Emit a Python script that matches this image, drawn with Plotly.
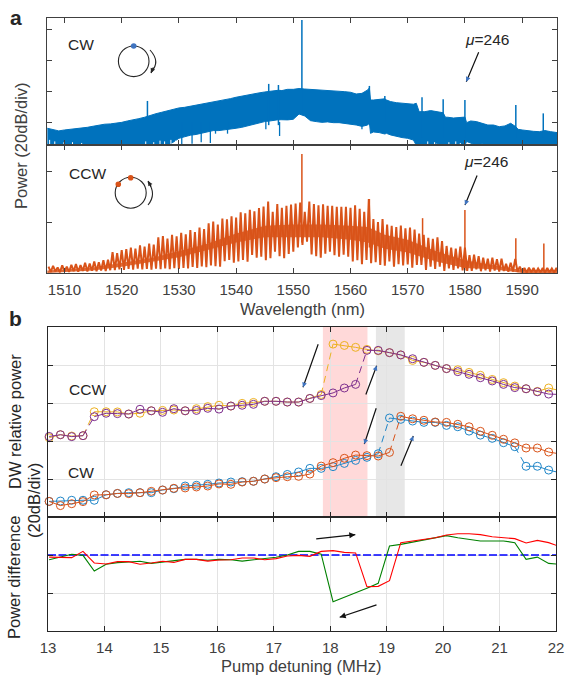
import plotly.graph_objects as go

W, H = 566, 677
BLUE, ORANGE, YELLOW, PURPLE = "#0072BD", "#D95319", "#EDB120", "#7E2F8E"
AX = "#404040"

# ---------- panel a: CW spectrum envelope (dB, relative) ----------
cw_wl = [1507,1508,1509,1510,1511,1512,1513,1514,1515,1516,1517,1518,1519,1520,1521,1522,1523,1524,1525,1526,
         1527,1528,1529,1530,1531,1532,1533,1534,1535,1536,1537,1538,1539,1540,1541,1542,1543,1544,1545,1545.7,
         1546.2,1547,1547.4,1548,1549,1550,1551,1552,1553,1554,1555,1556,1557,1558,1559,1560,1561,1562,1563,1563.3,
         1563.5,1564,1565,1566,1566.3,1567,1568,1569,1570,1571,1571.5,1572,1572.5,1573,1574,1575,1576,1576.2,1576.6,1577,
         1578,1579,1579.9,1580,1580.3,1581,1582,1583,1584,1585,1586,1587,1588,1588.9,1589.3,1590,1591,1592,1593,1593.7,
         1594,1595,1596.1]
cw_hi = [-64.0,-64.7,-65.7,-65.1,-64.7,-64.5,-64.0,-63.4,-62.7,-61.9,-61.4,-61.2,-60.8,-60.2,-59.3,-58.7,-57.8,-56.9,-55.6,-54.6,
         -53.7,-52.6,-51.8,-50.9,-50.5,-49.8,-49.2,-48.5,-47.9,-47.3,-46.6,-46.0,-44.9,-44.0,-43.2,-42.5,-41.9,-41.2,-40.6,-40.2,
         -39.7,-39.3,-39.5,-39.7,-38.9,-38.9,-38.4,-38.7,-38.9,-39.1,-39.3,-39.7,-39.9,-40.2,-40.4,-40.8,-41.9,-41.5,-39.3,-38.0,
         -45.8,-45.8,-45.3,-45.0,-45.8,-46.8,-47.5,-47.9,-48.3,-48.5,-47.9,-53.3,-53.3,-53.3,-52.6,-53.3,-53.7,-54.0,-56.9,-56.9,
         -57.4,-56.9,-56.5,-56.8,-60.4,-59.3,-59.7,-60.8,-61.9,-61.9,-63.0,-62.5,-60.8,-63.0,-64.7,-65.1,-65.7,-66.0,-66.2,-66.0,
         -65.5,-66.2,-66.8]
cw_lo = [-75,-75,-75,-75,-75,-75,-75,-75,-75,-75,-75,-75,-75,-75,-75,-75,-75,-75,-75,-75,
         -75,-75,-73,-70.5,-69.5,-68.5,-68,-67.3,-66.5,-65.5,-65.5,-65.1,-64.7,-64.0,-63.4,-62.5,-61.2,-60.4,-59.7,-59.4,
         -59.1,-58.7,-58.5,-58.5,-58.6,-58.2,-54.8,-56.1,-59.1,-59.7,-60.2,-59.9,-60.4,-60.4,-60.8,-61.2,-61.9,-62.8,-61.9,-60.0,
         -67.3,-66.4,-66.8,-67.7,-67.3,-68.3,-69.4,-70.0,-70.5,-71.6,-75,-75,-75,-74.1,-75,-73.7,-75,-75,-75,-75,
         -75,-75,-75,-75,-72.5,-73.5,-75,-74,-75,-74.5,-75,-75,-75,-75,-75,-75,-75,-75,-75,-75,
         -75,-75,-75]
cw_spike_wl = [1524.5, 1545.7, 1547.4, 1551.5, 1563.3, 1566.0, 1572.5, 1576.2, 1580.0, 1588.9, 1593.7]
cw_spike_top = [-46.4, -35.4, -36.1, 5.8, -36.7, -43.2, -44.0, -45.3, -45.8, -49.0, -54.4]
cw_spike_bot = [-58.0, -62.0, -62.0, -55.0, -62.0, -60.0, -70.0, -70.0, -70.0, -70.0, -70.0]
cw_drop_wl = [1530.5, 1532.3, 1533.9, 1535.5, 1536.4, 1538.5, 1545.2, 1547.6, 1562.0]
cw_drop_bot = [-75.0, -74.0, -73.0, -73.5, -67.5, -67.5, -64.7, -69.0, -64.7]
cw_slit_wl = [1507.4, 1508.3, 1509.9, 1511.4, 1513.0, 1524.2, 1525.6, 1526.7, 1527.5, 1528.6, 1529.4,
              1573.5, 1574.7, 1577.2, 1578.4, 1579.2]
cw_slit_top = [-71.5, -72.5, -73.0, -73.0, -73.5, -72.5, -73.0, -72.0, -72.5, -71.5, -72.0,
               -72.5, -73.0, -73.0, -72.5, -73.5]

# ---------- panel a: CCW comb teeth (dB, relative) ----------
ccw_wl = [1507.2,1508.0,1508.8,1509.6,1510.4,1511.2,1512.0,1512.8,1513.6,1514.4,1515.2,1516.0,1516.8,1517.6,
          1518.4,1519.2,1520.0,1520.8,1521.6,1522.4,1523.2,1524.0,1524.8,1525.6,1526.4,1527.2,1528.0,1528.8,
          1529.6,1530.4,1531.2,1532.0,1532.8,1533.6,1534.4,1535.2,1536.0,1536.8,1537.6,1538.4,1539.2,1540.0,
          1540.8,1541.6,1542.4,1543.2,1544.0,1544.8,1545.6,1546.4,1547.2,1548.0,1548.8,1549.6,1550.4,1551.2,
          1552.0,1552.8,1553.6,1554.4,1555.2,1556.0,1556.8,1557.6,1558.4,1559.2,1560.0,1560.8,1561.6,1562.4,
          1563.2,1564.0,1564.8,1565.6,1566.4,1567.2,1568.0,1568.8,1569.6,1570.4,1571.2,1572.0,1572.8,1573.6,
          1574.4,1575.2,1576.0,1576.8,1577.6,1578.4,1579.2,1580.0,1580.8,1581.6,1582.4,1583.2,1584.0,1584.8,
          1585.6,1586.4,1587.2,1588.0,1588.8,1589.6,1590.4,1591.2,1592.0,1592.8,1593.6,1594.4,1595.2,1596.0]
ccw_peak = [-57.5,-57.2,-57.8,-57.0,-57.5,-56.8,-56.5,-56.9,-56.0,-56.3,-55.5,-55.8,-55.0,-54.8,
            -51.8,-52.2,-51.0,-50.6,-50.0,-50.4,-49.2,-49.6,-48.5,-48.9,-46.0,-45.5,-46.5,-45.0,
            -45.6,-44.2,-44.8,-43.2,-43.9,-42.2,-42.8,-40.5,-39.8,-41.0,-38.6,-38.9,-37.8,-38.3,
            -36.2,-36.6,-35.2,-35.8,-34.5,-33.9,-32.0,-36.0,-33.0,-34.4,-33.6,-33.2,-32.8,-32.4,
            -36.0,-32.0,-33.0,-33.4,-33.1,-33.6,-33.6,-34.0,-34.0,-34.0,-34.4,-33.4,-34.8,-36.0,
            -31.0,-38.8,-40.0,-38.8,-41.0,-41.5,-42.0,-41.4,-42.5,-42.2,-43.0,-44.5,-45.0,-46.2,
            -46.6,-46.0,-47.5,-49.4,-50.0,-50.4,-49.6,-50.0,-53.0,-52.8,-53.4,-54.0,-54.4,-54.0,
            -54.6,-54.4,-56.4,-56.0,-54.5,-57.5,-58.0,-57.9,-58.0,-58.2,-58.0,-58.0,-58.2,-58.0]
ccw_trough = [-59.6,-59.4,-59.7,-59.4,-59.6,-59.3,-59.5,-59.2,-59.4,-59.1,-59.3,-59.0,-59.2,-58.9,
              -58.9,-58.6,-58.8,-58.4,-58.7,-58.3,-58.6,-58.4,-58.7,-58.3,-58.5,-58.2,-58.5,-58.1,
              -58.4,-58.0,-58.2,-57.6,-58.0,-57.4,-57.7,-57.0,-57.3,-57.5,-55.4,-54.9,-56.0,-55.5,
              -54.9,-55.6,-52.9,-54.0,-53.6,-55.0,-54.2,-51.6,-53.4,-54.2,-52.5,-51.6,-50.0,-49.0,
              -47.7,-52.7,-53.4,-54.0,-52.4,-51.6,-53.0,-53.6,-52.8,-53.6,-55.5,-55.0,-56.6,-54.9,
              -56.2,-55.8,-56.8,-57.1,-55.5,-57.5,-56.5,-57.0,-56.6,-57.9,-56.8,-56.8,-58.8,-57.5,
              -58.4,-57.5,-59.2,-58.2,-58.8,-58.2,-59.0,-59.2,-59.2,-58.6,-59.3,-58.9,-59.4,-59.0,
              -59.4,-59.2,-59.5,-59.4,-59.5,-59.7,-59.8,-59.7,-59.8,-59.7,-59.8,-59.7,-59.8,-59.7]
ccw_core_wl = [1507,1515,1520,1525,1530,1535,1540,1545,1550,1555,1560,1563,1566,1570,1575,1580,1585,1590,1596.1]
ccw_core_hi = [-59,-57.8,-56.0,-54.2,-51.5,-48.5,-44.5,-41.5,-41.0,-41.0,-41.5,-42.0,-45.0,-47.0,-51.5,-55.0,-57.0,-58.8,-58.8]
ccw_core_lo = [-60,-59.0,-57.5,-55.5,-53.8,-51.0,-48.0,-46.0,-46.0,-46.0,-47.0,-48.0,-50.5,-52.0,-55.5,-58.0,-58.5,-60,-60]
ccw_spike_wl = [1551.5, 1563.3, 1572.6, 1580.0, 1588.9, 1593.8]
ccw_spike_top = [-13.3, -31.0, -38.5, -35.3, -46.4, -48.4]
ccw_spike_bot = [-48.0, -50.0, -50.0, -59.0, -56.5, -59.0]

# ---------- panel b ----------
detuning = [13.02,13.22,13.42,13.62,13.82,14.03,14.23,14.43,14.63,14.83,15.03,15.23,15.43,15.63,15.83,16.03,
            16.24,16.44,16.64,16.84,17.04,17.24,17.44,17.64,17.84,18.05,18.25,18.45,18.65,18.85,19.05,19.25,
            19.46,19.66,19.86,20.06,20.26,20.46,20.66,20.87,21.07,21.27,21.47,21.67,21.87,22.07]
ccw_fwd = [41.7,43.3,42.6,42.8,55.4,55.4,55.3,54.2,54.6,55.9,56.1,56.3,55.9,57.0,58.1,58.8,
           58.4,59.8,60.3,60.9,60.9,60.5,60.5,62.4,64.5,91.0,90.3,89.3,88.2,87.5,86.5,85.3,
           82.4,81.4,79.8,78.1,77.5,76.1,74.6,72.4,70.7,68.9,67.5,66.1,67.9,66.5]
ccw_back = [42.4,43.3,42.3,42.8,52.8,54.6,54.4,54.2,56.7,55.9,55.1,57.0,55.9,56.1,57.2,56.8,
            58.4,58.8,59.3,60.9,60.9,60.5,60.5,62.4,63.9,65.3,67.9,69.8,87.7,87.7,86.5,85.3,
            83.3,81.4,79.8,78.1,76.5,75.1,73.3,71.6,69.8,68.1,67.5,65.9,64.7,64.5]
cw_back = [8.2,8.4,8.8,8.8,8.8,11.7,12.4,12.8,12.8,12.8,14.2,14.9,16.3,16.7,17.2,17.9,
           18.4,18.6,18.8,20.0,21.2,22.4,23.7,25.6,25.6,26.5,28.2,29.8,31.4,33.3,52.1,51.4,
           50.5,49.8,49.8,48.2,47.5,45.2,43.1,41.4,39.1,37.0,26.7,26.7,24.7,23.3]
cw_fwd = [8.2,6.0,7.0,8.1,11.6,11.7,12.4,12.3,12.8,13.5,14.2,15.1,15.3,15.8,16.3,17.4,
          17.2,18.4,18.8,20.0,20.7,21.2,21.4,22.6,26.8,28.6,30.9,32.6,32.3,32.1,34.0,53.0,
          51.7,50.9,50.0,49.8,48.8,47.5,45.1,43.0,40.9,39.0,36.3,36.3,34.2,33.2]
diff_green = [-2.5,-1.2,0.4,-0.2,-8.4,-4.9,-4.0,-3.7,-3.3,-4.4,-3.7,-3.0,-2.3,-2.3,-2.8,-2.3,
              -2.5,-3.2,-2.6,-2.1,-1.2,0.0,1.9,1.9,0.4,-24.6,-22.3,-19.8,-17.5,-14.9,4.7,5.6,
              6.8,7.9,9.3,10.2,9.1,8.2,7.4,7.4,7.4,6.5,-2.3,-1.1,-4.4,-4.9]
diff_red = [-1.1,-1.1,-1.4,1.9,-4.2,-4.7,-3.5,-3.5,-4.9,-4.2,-3.3,-3.9,-2.3,-2.3,-3.2,-2.6,
            -2.5,-1.6,-1.6,-2.5,-1.9,-0.5,-0.2,-0.7,1.9,2.3,1.4,1.1,-16.7,-16.5,-13.5,6.5,
            7.4,8.1,9.1,10.5,11.2,11.2,10.7,9.6,9.1,8.6,6.3,7.7,6.5,4.4]
jumps_ccw_fwd = [3, 24]
jumps_ccw_back = [3, 27]
jumps_cw_back = [29, 41]
jumps_cw_fwd = [30]
wl_ticks = [1510,1520,1530,1540,1550,1560,1570,1580,1590]
det_ticks = [13,14,15,16,17,18,19,20,21,22]

def px(x): return x / W
def py(y): return 1 - y / H

fig = go.Figure()

def bars(wl, top, bot, color, width, xa, ya):
    sx, sy = [], []
    for w, t, b in zip(wl, top, bot):
        sx += [w, w, None]; sy += [t, b, None]
    fig.add_trace(go.Scatter(x=sx, y=sy, mode="lines", line=dict(color=color, width=width), xaxis=xa, yaxis=ya, showlegend=False))

# --- CW spectrum
fig.add_trace(go.Scatter(x=cw_wl, y=cw_lo, mode="lines", line=dict(color=BLUE, width=1), xaxis="x", yaxis="y", showlegend=False))
fig.add_trace(go.Scatter(x=cw_wl, y=cw_hi, mode="lines", line=dict(color=BLUE, width=1), fill="tonexty", fillcolor=BLUE, xaxis="x", yaxis="y", showlegend=False))
bars(cw_spike_wl, cw_spike_top, cw_spike_bot, BLUE, 1.5, "x", "y")
bars(cw_drop_wl, [-60.0] * len(cw_drop_wl), cw_drop_bot, BLUE, 1.3, "x", "y")
bars(cw_slit_wl, cw_slit_top, [-75.0] * len(cw_slit_wl), "white", 1.0, "x", "y")

# --- CCW spectrum
fig.add_trace(go.Scatter(x=ccw_core_wl, y=ccw_core_lo, mode="lines", line=dict(color=ORANGE, width=0), xaxis="x2", yaxis="y2", showlegend=False))
fig.add_trace(go.Scatter(x=ccw_core_wl, y=ccw_core_hi, mode="lines", line=dict(color=ORANGE, width=0), fill="tonexty", fillcolor="rgba(217,83,25,0.85)", xaxis="x2", yaxis="y2", showlegend=False))
zx, zy = [], []
for w, p, t in zip(ccw_wl, ccw_peak, ccw_trough):
    zx += [w, w + 0.4]; zy += [p, t]
fig.add_trace(go.Scatter(x=zx, y=zy, mode="lines", line=dict(color=ORANGE, width=2.0), xaxis="x2", yaxis="y2", showlegend=False))
bars(ccw_spike_wl, ccw_spike_top, ccw_spike_bot, ORANGE, 1.5, "x2", "y2")

# --- DW series
def series(vals, jumps, color):
    lx, ly, dx, dy = [], [], [], []
    for i, (a, b) in enumerate(zip(detuning, vals)):
        lx.append(a); ly.append(b)
        if i in jumps:
            lx.append(None); ly.append(None)
            dx += [a, detuning[i + 1], None]; dy += [b, vals[i + 1], None]
    fig.add_trace(go.Scatter(x=lx, y=ly, mode="lines", line=dict(color=color, width=1), xaxis="x3", yaxis="y3", showlegend=False))
    fig.add_trace(go.Scatter(x=dx, y=dy, mode="lines", line=dict(color=color, width=1, dash="7px,5px"), xaxis="x3", yaxis="y3", showlegend=False))
    fig.add_trace(go.Scatter(x=detuning[:-1], y=vals[:-1], mode="markers", cliponaxis=False,
                             marker=dict(symbol="circle-open", size=8, color=color, line=dict(width=1, color=color)),
                             xaxis="x3", yaxis="y3", showlegend=False))
series(ccw_fwd, jumps_ccw_fwd, YELLOW)
series(ccw_back, jumps_ccw_back, PURPLE)
series(cw_back, jumps_cw_back, "#1F86C8")
series(cw_fwd, jumps_cw_fwd, ORANGE)

# --- difference
fig.add_trace(go.Scatter(x=[13, 22], y=[0, 0], mode="lines", line=dict(color="#0000FF", width=1.3, dash="8px,2.5px"), xaxis="x4", yaxis="y4", showlegend=False))
fig.add_trace(go.Scatter(x=detuning, y=diff_green, mode="lines", line=dict(color="#008000", width=1.1), xaxis="x4", yaxis="y4", showlegend=False))
fig.add_trace(go.Scatter(x=detuning, y=diff_red, mode="lines", line=dict(color="#FF0000", width=1.1), xaxis="x4", yaxis="y4", showlegend=False))

# --- shaded bands
shapes = [
    dict(type="rect", xref="x3", yref="y3", x0=17.87, x1=18.66, y0=0, y1=100, fillcolor="rgba(255,0,0,0.15)", line_width=0, layer="below"),
    dict(type="rect", xref="x3", yref="y3", x0=18.81, x1=19.32, y0=0, y1=100, fillcolor="rgba(120,120,120,0.18)", line_width=0, layer="below"),
]
# --- ring icons
def ring(cx, cy, r):
    shapes.append(dict(type="circle", xref="paper", yref="paper", x0=px(cx - r), x1=px(cx + r), y0=py(cy + r), y1=py(cy - r), line=dict(color="#262626", width=1.1)))
def dot(cx, cy, c, r=2.8):
    shapes.append(dict(type="circle", xref="paper", yref="paper", x0=px(cx - r), x1=px(cx + r), y0=py(cy + r), y1=py(cy - r), fillcolor=c, line_width=0))
def arc(x0, y0, xm, ym, x1, y1):
    shapes.append(dict(type="path", xref="paper", yref="paper",
                       path=f"M {px(x0)} {py(y0)} Q {px(xm)} {py(ym)} {px(x1)} {py(y1)}", line=dict(color="#262626", width=1.1)))
ring(133.7, 61.3, 15.3); dot(133.7, 46, "#3F74C0")
arc(150, 50, 161, 62, 151, 72)
ring(130.7, 192.7, 15.5); dot(130.7, 177.7, ORANGE); dot(118.3, 184.3, ORANGE)
arc(148, 182, 157, 194, 148, 205)

# --- annotations
ann = []
def text(x, y, s, size=15, rot=0, color="#262626", **kw):
    ann.append(dict(xref="paper", yref="paper", x=px(x), y=py(y), text=s, showarrow=False,
                    font=dict(family="Liberation Sans", size=size, color=color), textangle=rot,
                    xanchor=kw.get("xanchor", "center"), yanchor="middle"))
def arrow(hx, hy, tx, ty, head="#262626", width=1.2, hs=0.8):
    ann.append(dict(xref="paper", yref="paper", x=px(hx), y=py(hy), ax=tx - hx, ay=ty - hy, text="", showarrow=True,
                    arrowhead=0, arrowwidth=width, arrowcolor="#111111"))
    f = 5 / ((tx - hx) ** 2 + (ty - hy) ** 2) ** 0.5
    ann.append(dict(xref="paper", yref="paper", x=px(hx), y=py(hy), ax=(tx - hx) * f, ay=(ty - hy) * f, text="", showarrow=True,
                    arrowhead=2, arrowsize=hs, arrowwidth=1.2, arrowcolor=head))

text(16, 18, "<b>a</b>", 21)
text(15, 318, "<b>b</b>", 21)
text(81, 45, "CW", 15.5)
text(87, 173, "CCW", 15.5)
text(87, 389, "CCW", 15.5)
text(81, 472, "CW", 15.5)
text(487, 39, "<i>μ</i>=246", 15.5)
text(486, 162, "<i>μ</i>=246", 15.5)
text(21, 146, "Power (20dB/div)", 16.5, -90, AX)
text(15, 422, "DW relative power", 16.5, -90)
text(14, 577, "Power difference", 16.5, -90)
text(34, 501, "(20dB/div)", 16.5, -90)
text(302, 309, "Wavelength (nm)", 16.5, color=AX)
text(301, 666, "Pump detuning (MHz)", 16.5, color=AX)

arrow(466.3, 81.7, 479.3, 50.7, "#3F74C0")
arrow(465, 205, 477.7, 174, "#3F74C0")
arrow(303, 387.3, 318.7, 342.7, "#3F74C0")
arrow(376.7, 365.7, 365.3, 396, "#3F74C0")
arrow(364.3, 444, 376.7, 406.7, "#3F74C0")
arrow(413.3, 436, 400.3, 467.3, "#3F74C0")
arrow(355.3, 534.7, 314.7, 539, "#111111", hs=1.0)
arrow(339.7, 617.3, 378, 604.3, "#111111", hs=1.0)
arrow(151, 73, 154, 66, "#262626", hs=0.8)
arrow(148, 181, 152, 188, "#262626", hs=0.8)

def xax(dom, rng, vals, labels=False, grid=False, color=AX, anchor="y"):
    return dict(domain=dom, range=rng, tickvals=vals, ticks="inside", ticklen=5, tickwidth=1, tickcolor=color,
                showline=True, linecolor=color, linewidth=1.2, mirror="ticks", showticklabels=labels, showgrid=grid,
                gridcolor="#E3E3E3", gridwidth=1.2, zeroline=False, anchor=anchor, tickangle=0, automargin=False,
                ticklabelstandoff=3, tickfont=dict(family="Liberation Sans", size=15, color=AX))
def yax(dom, rng, vals, grid=False, color=AX, anchor="x"):
    return dict(domain=dom, range=rng, tickvals=vals, ticks="inside", ticklen=5, tickwidth=1, tickcolor=color,
                showline=True, linecolor=color, linewidth=1.2, mirror="ticks", showticklabels=False, showgrid=grid,
                gridcolor="#E3E3E3", gridwidth=1.2, zeroline=False, anchor=anchor, automargin=False)

XA = [px(47), px(557)]
XB = [px(48), px(556)]
RA = [1506.94, 1596.1]
RB = [13, 22]
DK = "#262626"
fig.update_layout(
    width=W, height=H, autosize=False, margin=dict(l=0, r=0, t=0, b=0, pad=0, autoexpand=False), paper_bgcolor="white", plot_bgcolor="rgba(0,0,0,0)",
    showlegend=False, shapes=shapes, annotations=ann,
    xaxis=xax(XA, RA, wl_ticks, anchor="y"),
    yaxis=yax([py(145), py(18)], [-74.8, 7.1], [-60, -40, -20, 0], anchor="x"),
    xaxis2=xax(XA, RA, wl_ticks, labels=True, anchor="y2"),
    yaxis2=yax([py(273), py(145)], [-60, -9.8], [-40, -20], anchor="x2"),
    xaxis3=xax(XB, RB, det_ticks, grid=True, color=DK, anchor="y3"),
    yaxis3=yax([py(517), py(327)], [0, 100], [20, 40, 60, 80], grid=True, color=DK, anchor="x3"),
    xaxis4=xax(XB, RB, det_ticks, labels=True, grid=True, color=DK, anchor="y4"),
    yaxis4=yax([py(631), py(517)], [-40, 20], [-20, 0], grid=True, color=DK, anchor="x4"),
)
fig.write_html("out.html", post_script="document.body.style.margin='0';", config=dict(displayModeBar=False))
